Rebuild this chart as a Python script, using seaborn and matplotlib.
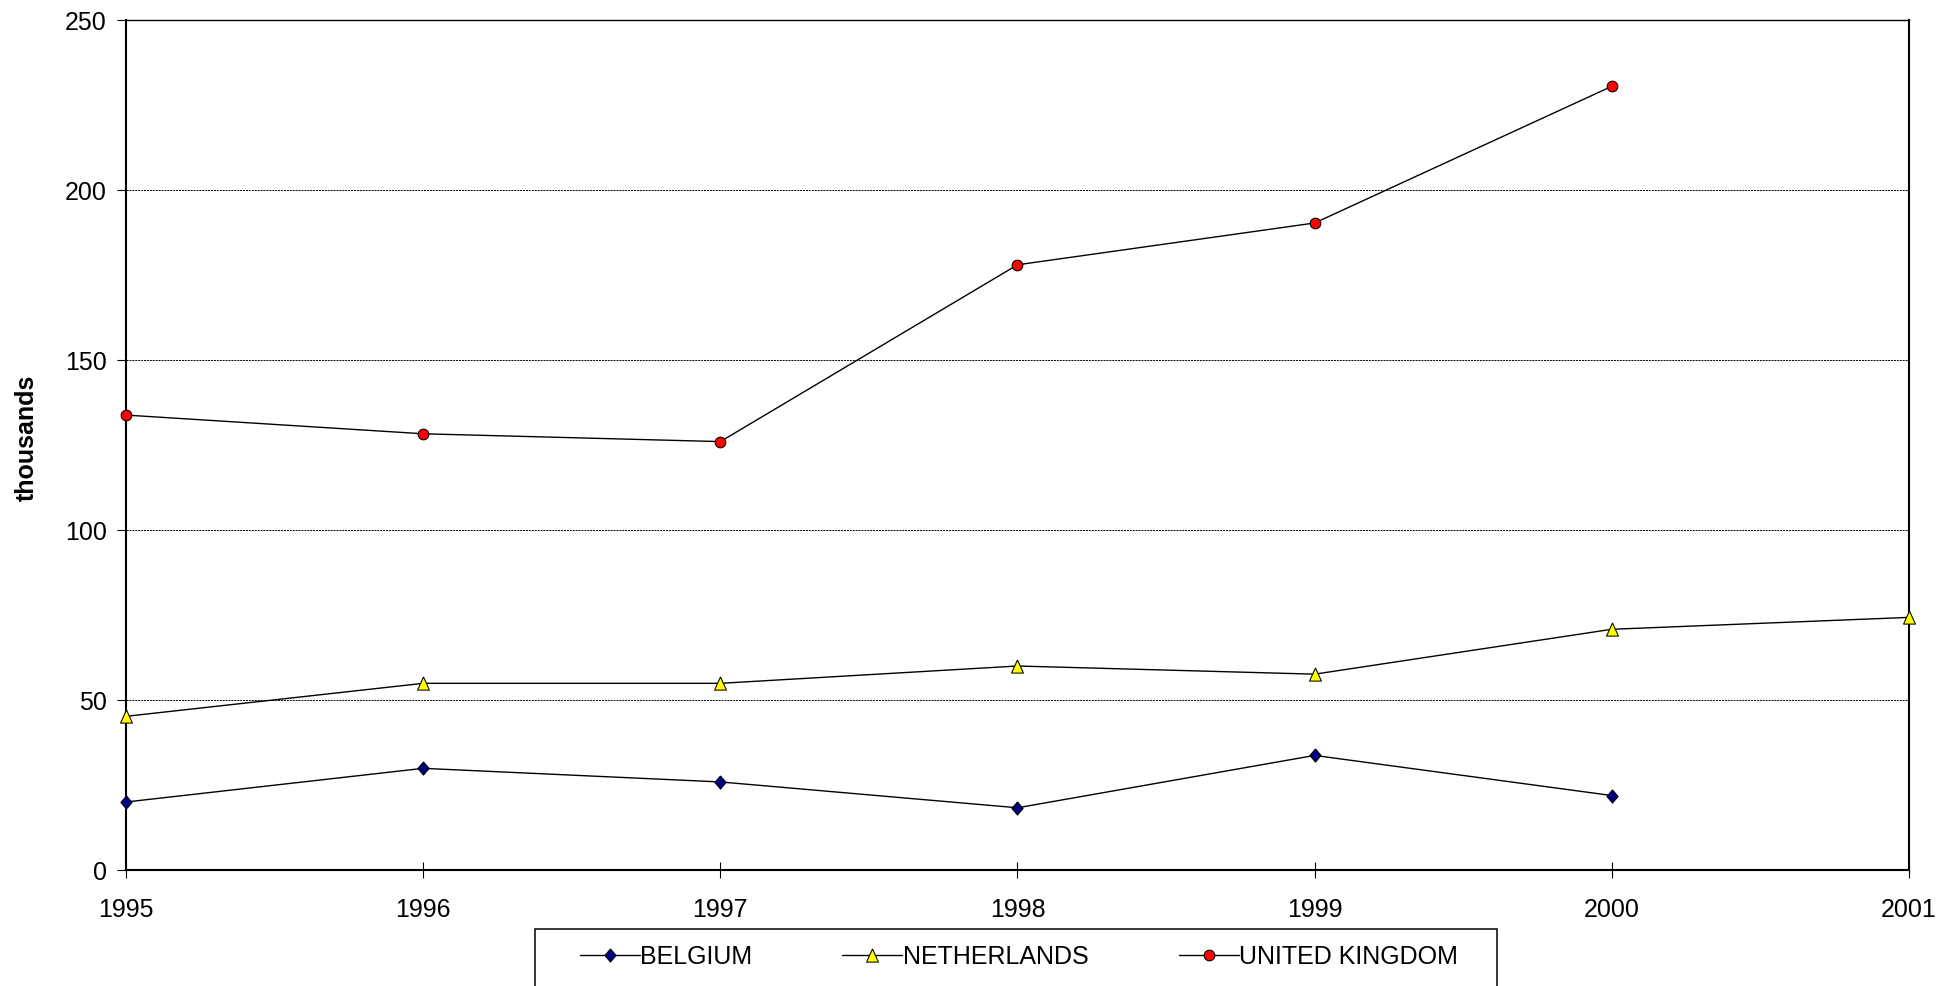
import matplotlib
matplotlib.use("Agg")
import matplotlib.pyplot as plt
from matplotlib.patches import Rectangle
import seaborn as sns

# ---- data (thousands) ----
years_belgium = [1995, 1996, 1997, 1998, 1999, 2000]
belgium = [20.0, 29.9, 25.9, 18.3, 33.7, 21.9]

years_netherlands = [1995, 1996, 1997, 1998, 1999, 2000, 2001]
netherlands = [45.2, 54.9, 54.9, 60.0, 57.6, 70.8, 74.3]

years_uk = [1995, 1996, 1997, 1998, 1999, 2000]
uk = [133.8, 128.3, 126.0, 178.0, 190.3, 230.5]

series_names = ["BELGIUM", "NETHERLANDS", "UNITED KINGDOM"]
x_ticks = [1995, 1996, 1997, 1998, 1999, 2000, 2001]
y_ticks = [0, 50, 100, 150, 200, 250]
y_label = "thousands"

sns.set_style("ticks")
plt.rcParams["font.family"] = ["Liberation Sans", "DejaVu Sans"]
plt.rcParams["text.color"] = "black"
plt.rcParams["axes.labelcolor"] = "black"
plt.rcParams["xtick.color"] = "black"
plt.rcParams["ytick.color"] = "black"
plt.rcParams["legend.labelcolor"] = "black"

fig = plt.figure(figsize=(19.39, 9.86), dpi=100)
ax = fig.add_axes([126 / 1939, 1 - 870 / 986, 1783 / 1939, 850 / 986])

diamond = [(0, 1), (0.85, 0), (0, -1), (-0.85, 0), (0, 1)]
triangle = [(0, 1), (0.9, -1), (-0.9, -1), (0, 1)]

styles = [
    (years_belgium, belgium, diamond, "#000080", 9.5),
    (years_netherlands, netherlands, triangle, "#FFFF00", 9.5),
    (years_uk, uk, "o", "#FF0000", 7.7),
]

for name, (xs, ys, mk, fc, ms) in zip(series_names, styles):
    sns.lineplot(x=xs, y=ys, ax=ax, color="black", linewidth=1.0,
                 marker=mk, markerfacecolor=fc, markeredgecolor="black",
                 markeredgewidth=0.75, markersize=ms, label=name,
                 clip_on=False, zorder=3)

ax.set_xlim(1995, 2001)
ax.set_ylim(0, 250)
ax.set_xticks(x_ticks)
ax.set_xticklabels([str(y) for y in x_ticks])
ax.set_yticks(y_ticks)
ax.set_xlabel("")
ax.set_ylabel(y_label, fontsize=18, fontweight="bold", color="black")
ax.yaxis.set_label_coords(-(126 - 39) / 1783, 0.509)

ax.yaxis.grid(True, color="black", linestyle=(0, (2, 1)), linewidth=0.7)
ax.xaxis.grid(False)
ax.set_axisbelow(True)

for side in ["left", "bottom", "right"]:
    ax.spines[side].set_visible(True)
    ax.spines[side].set_color("black")
    ax.spines[side].set_linewidth(1.5)
ax.spines["top"].set_visible(True)
ax.spines["top"].set_color("black")
ax.spines["top"].set_linewidth(1.0)

ax.tick_params(axis="x", direction="inout", length=12, width=0.8,
               pad=14.0, labelsize=18, colors="black")
ax.tick_params(axis="y", direction="out", length=6.5, width=0.8,
               pad=7.5, labelsize=18, colors="black")

handles, labels = ax.get_legend_handles_labels()
if ax.get_legend() is not None:
    ax.get_legend().remove()
fig.legend(handles, labels, loc="center", bbox_to_anchor=(0.5255, 0.0294),
           ncol=3, frameon=False, fontsize=18, handlelength=2.4,
           handletextpad=0.02, columnspacing=3.6, borderpad=0,
           borderaxespad=0, numpoints=1, labelcolor="black")
fig.add_artist(Rectangle((535 / 1939, -0.05), 962 / 1939, 0.0578 + 0.05,
                         transform=fig.transFigure, fill=False,
                         edgecolor="black", linewidth=1.1, clip_on=False))

fig.savefig("out.png", dpi=100)
